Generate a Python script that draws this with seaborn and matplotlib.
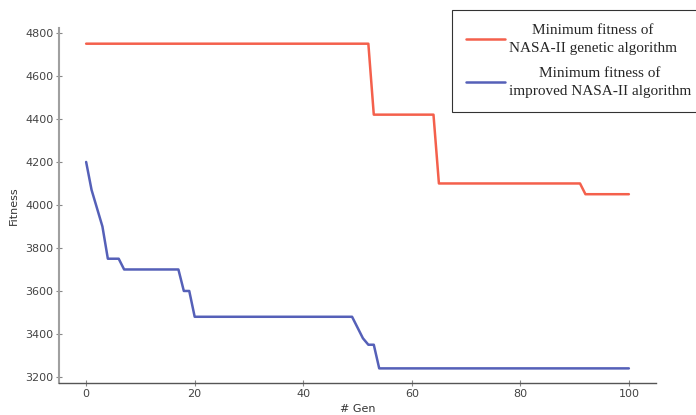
import matplotlib
matplotlib.use("Agg")
import matplotlib.pyplot as plt
import seaborn as sns
import numpy as np
import pandas as pd

# generations 0..100
gen = list(range(0, 101))

# minimum fitness of the NASA-II genetic algorithm
nasa_steps = [(0, 4750), (53, 4420), (65, 4100), (92, 4050)]
# minimum fitness of the improved NASA-II algorithm
improved_head = [4200, 4070, 3985, 3900, 3750, 3750, 3750, 3700]
improved_steps = [(7, 3700), (18, 3600), (20, 3480), (50, 3430), (51, 3380),
                  (52, 3350), (54, 3240)]

label_nasa = "Minimum fitness of\nNASA-II genetic algorithm"
label_impr = "Minimum fitness of\nimproved NASA-II algorithm"

xticks = [0, 20, 40, 60, 80, 100]
yticks = [3200, 3400, 3600, 3800, 4000, 4200, 4400, 4600, 4800]


def expand(steps, head=None):
    vals = []
    for g in gen:
        if head is not None and g < len(head):
            vals.append(head[g])
            continue
        v = None
        for start, val in steps:
            if g >= start:
                v = val
        vals.append(v)
    return vals


nasa = expand(nasa_steps)
improved = expand(improved_steps, improved_head)

df = pd.DataFrame({"gen": gen, "nasa": nasa, "improved": improved})

sns.set_theme(style="ticks")
plt.rcParams["font.family"] = ["DejaVu Sans"]

fig = plt.figure(figsize=(6.96, 4.15), dpi=100)
ax = fig.add_axes([59 / 696, 1 - 383 / 415, (656 - 59) / 696, (383 - 28) / 415])

sns.lineplot(data=df, x="gen", y="nasa", ax=ax, color="#f4604c", lw=1.8, label=label_nasa)
sns.lineplot(data=df, x="gen", y="improved", ax=ax, color="#5560b8", lw=1.8, label=label_impr)

ax.set_xlim(-5, 105)
ax.set_ylim(3172, 4823)
ax.set_xticks(xticks)
ax.set_yticks(yticks)
ax.set_xlabel("# Gen", fontsize=8, color="#333333")
ax.set_ylabel("Fitness", fontsize=8, color="#333333")
ax.xaxis.set_label_coords(0.5, -0.06)
ax.yaxis.set_label_coords(-0.068, 0.5)
ax.tick_params(axis="both", labelsize=8, labelcolor="#444444", direction="inout",
               length=4, width=0.8, color="#888888", pad=2)

for s in ["top", "right"]:
    ax.spines[s].set_visible(False)
ax.spines["left"].set_color("#a0a0a0")
ax.spines["left"].set_linewidth(1.5)
ax.spines["bottom"].set_color("#555555")
ax.spines["bottom"].set_linewidth(1.0)

leg = ax.legend(loc="upper left", bbox_to_anchor=(452 / 696, 1 - 10 / 415),
                bbox_transform=fig.transFigure, frameon=True, fancybox=False,
                prop={"family": "Liberation Serif", "size": 11},
                handlelength=2.6, handletextpad=0.2, borderpad=0.9,
                labelspacing=0.75, borderaxespad=0)
leg.get_frame().set_edgecolor("black")
leg.get_frame().set_linewidth(0.8)
for t in leg.get_texts():
    t.set_multialignment("center")
    t.set_linespacing(1.55)

fig.savefig("out.png", dpi=100)
